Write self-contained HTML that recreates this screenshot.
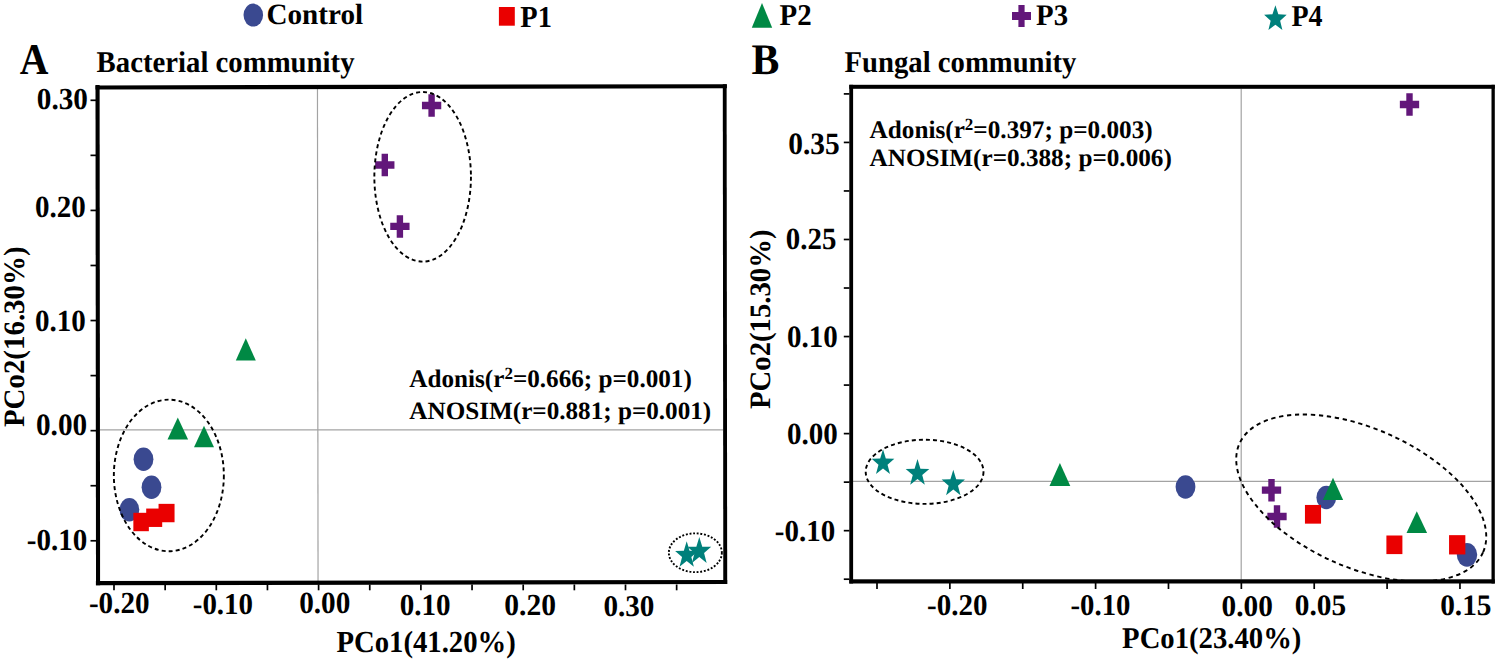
<!DOCTYPE html>
<html><head><meta charset="utf-8"><style>
html,body{margin:0;padding:0;background:#fff;}
svg{display:block;font-family:"Liberation Serif", serif;font-weight:bold;text-rendering:geometricPrecision;}
</style></head><body>
<svg width="1498" height="662" viewBox="0 0 1498 662">
<rect width="1498" height="662" fill="#fff"/>
<ellipse cx="253.3" cy="15.1" rx="9.8" ry="11.5" fill="#3a4990"/>
<rect x="498.90" y="7.00" width="15.9" height="18.7" fill="#ea0000"/>
<polygon points="762.00,3.00 772.20,27.70 751.80,27.70" fill="#008944"/>
<path d="M1018.40 5.00h6.2v7.05h6.40v7.9h-6.40v7.05h-6.2v-7.05h-6.40v-7.9h6.40z" fill="#62177a"/>
<polygon points="1275.40,5.30 1278.33,14.31 1286.69,14.73 1280.14,20.72 1282.38,29.99 1275.40,24.68 1268.42,29.99 1270.66,20.72 1264.11,14.73 1272.47,14.31" fill="#00807b"/>
<line x1="317.45" y1="89" x2="318.05" y2="581" stroke="#a3a3a3" stroke-width="1.2"/>
<line x1="99.8" y1="429.8" x2="723" y2="429.8" stroke="#a3a3a3" stroke-width="1.25"/>
<polygon points="95.50,85.40 726.90,84.20 726.90,88.30 95.50,89.60" fill="#000"/>
<polygon points="95.90,580.90 727.20,580.00 727.20,584.00 95.90,585.30" fill="#000"/>
<polygon points="95.50,85.00 99.60,85.00 100.10,585.30 96.00,585.30" fill="#000"/>
<polygon points="722.80,84.30 726.60,84.30 727.20,584.00 723.30,584.00" fill="#000"/>
<line x1="90.5" y1="100.3" x2="96" y2="100.3" stroke="#000" stroke-width="1.7"/>
<line x1="90.5" y1="155.36" x2="96" y2="155.36" stroke="#000" stroke-width="1.7"/>
<line x1="90.5" y1="210.42000000000002" x2="96" y2="210.42000000000002" stroke="#000" stroke-width="1.7"/>
<line x1="90.5" y1="265.48" x2="96" y2="265.48" stroke="#000" stroke-width="1.7"/>
<line x1="90.5" y1="320.54" x2="96" y2="320.54" stroke="#000" stroke-width="1.7"/>
<line x1="90.5" y1="375.6" x2="96" y2="375.6" stroke="#000" stroke-width="1.7"/>
<line x1="90.5" y1="430.66" x2="96" y2="430.66" stroke="#000" stroke-width="1.7"/>
<line x1="90.5" y1="485.72" x2="96" y2="485.72" stroke="#000" stroke-width="1.7"/>
<line x1="90.5" y1="540.78" x2="96" y2="540.78" stroke="#000" stroke-width="1.7"/>
<line x1="114.0" y1="584.5" x2="114.0" y2="590.3" stroke="#000" stroke-width="1.7"/>
<line x1="165.15" y1="584.5" x2="165.15" y2="590.3" stroke="#000" stroke-width="1.7"/>
<line x1="216.3" y1="584.5" x2="216.3" y2="590.3" stroke="#000" stroke-width="1.7"/>
<line x1="267.45" y1="584.5" x2="267.45" y2="590.3" stroke="#000" stroke-width="1.7"/>
<line x1="318.6" y1="584.5" x2="318.6" y2="590.3" stroke="#000" stroke-width="1.7"/>
<line x1="369.75" y1="584.5" x2="369.75" y2="590.3" stroke="#000" stroke-width="1.7"/>
<line x1="420.9" y1="584.5" x2="420.9" y2="590.3" stroke="#000" stroke-width="1.7"/>
<line x1="472.05" y1="584.5" x2="472.05" y2="590.3" stroke="#000" stroke-width="1.7"/>
<line x1="523.2" y1="584.5" x2="523.2" y2="590.3" stroke="#000" stroke-width="1.7"/>
<line x1="574.3499999999999" y1="584.5" x2="574.3499999999999" y2="590.3" stroke="#000" stroke-width="1.7"/>
<line x1="625.5" y1="584.5" x2="625.5" y2="590.3" stroke="#000" stroke-width="1.7"/>
<line x1="676.65" y1="584.5" x2="676.65" y2="590.3" stroke="#000" stroke-width="1.7"/>
<path d="M428.40 94.25h6.4v7.60h6.45v7.3h-6.45v7.60h-6.4v-7.60h-6.45v-7.3h6.45z" fill="#62177a"/>
<path d="M381.60 153.75h6.4v7.60h6.45v7.3h-6.45v7.60h-6.4v-7.60h-6.45v-7.3h6.45z" fill="#62177a"/>
<path d="M396.70 215.15h6.4v7.60h6.45v7.3h-6.45v7.60h-6.4v-7.60h-6.45v-7.3h6.45z" fill="#62177a"/>
<polygon points="245.80,338.20 255.80,360.50 235.80,360.50" fill="#008944"/>
<polygon points="177.80,417.50 188.10,439.60 167.50,439.60" fill="#008944"/>
<polygon points="204.00,425.80 214.00,447.30 194.00,447.30" fill="#008944"/>
<ellipse cx="143.5" cy="459.3" rx="9.9" ry="11.7" fill="#3a4990"/>
<ellipse cx="151.5" cy="487.3" rx="9.9" ry="11.7" fill="#3a4990"/>
<ellipse cx="129.4" cy="509.7" rx="9.9" ry="11.7" fill="#3a4990"/>
<rect x="133.35" y="512.80" width="15.5" height="18.4" fill="#ea0000"/>
<rect x="146.20" y="508.55" width="16" height="18.4" fill="#ea0000"/>
<rect x="158.55" y="503.85" width="16" height="18.4" fill="#ea0000"/>
<polygon points="686.70,541.30 689.56,550.77 698.28,550.97 691.33,557.03 693.86,566.63 686.70,560.90 679.54,566.63 682.07,557.03 675.12,550.97 683.84,550.77" fill="#00807b"/>
<polygon points="699.30,536.90 702.25,546.64 711.21,546.85 704.07,553.08 706.66,562.95 699.30,557.06 691.94,562.95 694.53,553.08 687.39,546.85 696.35,546.64" fill="#00807b"/>
<ellipse cx="422.65" cy="176.8" rx="48.3" ry="84.8" fill="none" stroke="#000" stroke-width="1.9" stroke-dasharray="4 3.1"/>
<ellipse cx="168.85" cy="475.45" rx="55.0" ry="75.8" fill="none" stroke="#000" stroke-width="1.9" stroke-dasharray="4 3.1"/>
<ellipse cx="695.35" cy="552.75" rx="26.5" ry="19.4" fill="none" stroke="#000" stroke-width="1.9" stroke-dasharray="1.9 1.75"/>
<line x1="1241.2" y1="88.8" x2="1241.2" y2="579.5" stroke="#a3a3a3" stroke-width="1.2"/>
<line x1="849" y1="481.4" x2="1491.5" y2="481.4" stroke="#a3a3a3" stroke-width="1.25"/>
<rect x="849.30" y="84.80" width="645.50" height="4.00" fill="#000"/>
<rect x="849.30" y="84.80" width="3.80" height="498.70" fill="#000"/>
<rect x="1491.50" y="84.80" width="3.30" height="498.70" fill="#000"/>
<rect x="849.30" y="579.30" width="645.50" height="4.20" fill="#000"/>
<line x1="843.8" y1="93.9" x2="849.5" y2="93.9" stroke="#000" stroke-width="1.7"/>
<line x1="843.8" y1="142.43" x2="849.5" y2="142.43" stroke="#000" stroke-width="1.7"/>
<line x1="843.8" y1="190.96" x2="849.5" y2="190.96" stroke="#000" stroke-width="1.7"/>
<line x1="843.8" y1="239.49" x2="849.5" y2="239.49" stroke="#000" stroke-width="1.7"/>
<line x1="843.8" y1="288.02" x2="849.5" y2="288.02" stroke="#000" stroke-width="1.7"/>
<line x1="843.8" y1="336.55" x2="849.5" y2="336.55" stroke="#000" stroke-width="1.7"/>
<line x1="843.8" y1="385.08000000000004" x2="849.5" y2="385.08000000000004" stroke="#000" stroke-width="1.7"/>
<line x1="843.8" y1="433.61" x2="849.5" y2="433.61" stroke="#000" stroke-width="1.7"/>
<line x1="843.8" y1="482.14" x2="849.5" y2="482.14" stroke="#000" stroke-width="1.7"/>
<line x1="843.8" y1="530.67" x2="849.5" y2="530.67" stroke="#000" stroke-width="1.7"/>
<line x1="843.8" y1="579.2" x2="849.5" y2="579.2" stroke="#000" stroke-width="1.7"/>
<line x1="877.0" y1="583" x2="877.0" y2="589" stroke="#000" stroke-width="1.7"/>
<line x1="949.87" y1="583" x2="949.87" y2="589" stroke="#000" stroke-width="1.7"/>
<line x1="1022.74" y1="583" x2="1022.74" y2="589" stroke="#000" stroke-width="1.7"/>
<line x1="1095.6100000000001" y1="583" x2="1095.6100000000001" y2="589" stroke="#000" stroke-width="1.7"/>
<line x1="1168.48" y1="583" x2="1168.48" y2="589" stroke="#000" stroke-width="1.7"/>
<line x1="1241.35" y1="583" x2="1241.35" y2="589" stroke="#000" stroke-width="1.7"/>
<line x1="1314.22" y1="583" x2="1314.22" y2="589" stroke="#000" stroke-width="1.7"/>
<line x1="1387.0900000000001" y1="583" x2="1387.0900000000001" y2="589" stroke="#000" stroke-width="1.7"/>
<line x1="1459.96" y1="583" x2="1459.96" y2="589" stroke="#000" stroke-width="1.7"/>
<path d="M1406.30 93.25h6.4v7.60h6.45v7.3h-6.45v7.60h-6.4v-7.60h-6.45v-7.3h6.45z" fill="#62177a"/>
<path d="M1268.30 478.95h6.4v7.60h6.45v7.3h-6.45v7.60h-6.4v-7.60h-6.45v-7.3h6.45z" fill="#62177a"/>
<path d="M1273.80 505.25h6.4v7.60h6.45v7.3h-6.45v7.60h-6.4v-7.60h-6.45v-7.3h6.45z" fill="#62177a"/>
<polygon points="883.00,449.30 885.80,458.57 894.34,458.77 887.53,464.69 890.01,474.08 883.00,468.48 875.99,474.08 878.47,464.69 871.66,458.77 880.20,458.57" fill="#00807b"/>
<polygon points="917.50,459.00 920.43,468.67 929.33,468.88 922.23,475.07 924.81,484.87 917.50,479.02 910.19,484.87 912.77,475.07 905.67,468.88 914.57,468.67" fill="#00807b"/>
<polygon points="953.30,469.80 956.18,479.34 964.97,479.54 957.97,485.64 960.51,495.31 953.30,489.54 946.09,495.31 948.63,485.64 941.63,479.54 950.42,479.34" fill="#00807b"/>
<polygon points="1059.90,462.90 1070.30,486.10 1049.50,486.10" fill="#008944"/>
<ellipse cx="1185.5" cy="487" rx="9.9" ry="11.7" fill="#3a4990"/>
<ellipse cx="1326.3" cy="497.5" rx="9.9" ry="11.7" fill="#3a4990"/>
<ellipse cx="1467" cy="554.8" rx="10.2" ry="11.85" fill="#3a4990"/>
<polygon points="1333.00,477.80 1343.15,500.10 1322.85,500.10" fill="#008944"/>
<polygon points="1416.80,511.20 1427.10,532.90 1406.50,532.90" fill="#008944"/>
<rect x="1304.95" y="504.95" width="16.1" height="18.7" fill="#ea0000"/>
<rect x="1386.40" y="535.50" width="16" height="18.6" fill="#ea0000"/>
<rect x="1449.05" y="535.15" width="16.3" height="19.3" fill="#ea0000"/>
<ellipse cx="924.6" cy="471.8" rx="58.9" ry="32.1" fill="none" stroke="#000" stroke-width="1.9" stroke-dasharray="4 3.1"/>
<ellipse cx="1361.24" cy="498.0" rx="133.37" ry="69.41" fill="none" stroke="#000" stroke-width="1.9" stroke-dasharray="4.3 3.7" transform="rotate(24.06 1361.24 498.0)"/>
<text x="266.48" y="0" font-size="29.15" transform="translate(0 24.41) scale(1 1.0045)">Control</text>
<text x="520.31" y="0" font-size="28.41" transform="translate(0 27.40) scale(1 1.0718)">P1</text>
<text x="779.51" y="0" font-size="28.93" transform="translate(0 25.00) scale(1 1.0441)">P2</text>
<text x="1036.11" y="0" font-size="28.79" transform="translate(0 24.71) scale(1 1.0341)">P3</text>
<text x="1291.52" y="0" font-size="27.99" transform="translate(0 26.00) scale(1 1.0854)">P4</text>
<text x="19.71" y="0" font-size="39.71" transform="translate(0 73.70) scale(1 1.1024)">A</text>
<text x="96.62" y="0" font-size="28.75" transform="translate(0 72.11) scale(1 1.0472)">Bacterial community</text>
<text x="88.93" y="0" font-size="29.13" transform="translate(0 612.57) scale(1 1.0463)">-0.20</text>
<text x="192.74" y="0" font-size="28.98" transform="translate(0 614.47) scale(1 1.0415)">-0.10</text>
<text x="299.19" y="0" font-size="29.21" transform="translate(0 613.36) scale(1 1.0533)">0.00</text>
<text x="399.69" y="0" font-size="29.09" transform="translate(0 614.67) scale(1 1.0526)">0.10</text>
<text x="504.27" y="0" font-size="29.57" transform="translate(0 614.67) scale(1 1.0356)">0.20</text>
<text x="603.39" y="0" font-size="29.15" transform="translate(0 615.77) scale(1 1.0302)">0.30</text>
<text x="36.79" y="0" font-size="29.21" transform="translate(0 109.47) scale(1 1.0483)">0.30</text>
<text x="34.99" y="0" font-size="29.04" transform="translate(0 217.06) scale(1 1.0598)">0.20</text>
<text x="34.99" y="0" font-size="29.04" transform="translate(0 330.76) scale(1 1.0598)">0.10</text>
<text x="35.99" y="0" font-size="29.27" transform="translate(0 435.16) scale(1 1.0612)">0.00</text>
<text x="26.84" y="0" font-size="29.03" transform="translate(0 550.27) scale(1 1.0549)">-0.10</text>
<text x="336.41" y="0" font-size="28.72" transform="translate(0 652.40) scale(1 1.0636)">PCo1(41.20%)</text>
<text x="0" y="0" font-size="28.91" transform="translate(23.90 427.09) rotate(-90) scale(1 1.0248)">PCo2(16.30%)</text>
<text x="409.35" y="0" font-size="25.17" transform="translate(0 387.30) scale(1 1.0052)">Adonis(r<tspan font-size="16.99" dy="-7.93">2</tspan><tspan dy="7.93">=0.666; p=0.001)</tspan></text>
<text x="409.35" y="0" font-size="25.17" transform="translate(0 418.90) scale(1 0.9870)">ANOSIM(r=0.881; p=0.001)</text>
<text x="751.41" y="0" font-size="41.76" transform="translate(0 73.57) scale(1 1.0448)">B</text>
<text x="844.61" y="0" font-size="28.68" transform="translate(0 71.70) scale(1 1.0543)">Fungal community</text>
<text x="927.04" y="0" font-size="29.03" transform="translate(0 614.67) scale(1 1.0397)">-0.20</text>
<text x="1070.55" y="0" font-size="28.73" transform="translate(0 614.67) scale(1 1.0505)">-0.10</text>
<text x="1221.48" y="0" font-size="29.33" transform="translate(0 616.27) scale(1 1.0239)">0.00</text>
<text x="1294.78" y="0" font-size="29.31" transform="translate(0 615.18) scale(1 1.0148)">0.05</text>
<text x="1440.18" y="0" font-size="29.37" transform="translate(0 615.18) scale(1 1.0127)">0.15</text>
<text x="788.28" y="0" font-size="29.43" transform="translate(0 153.86) scale(1 1.0557)">0.35</text>
<text x="785.80" y="0" font-size="28.89" transform="translate(0 248.76) scale(1 1.0651)">0.25</text>
<text x="787.09" y="0" font-size="29.04" transform="translate(0 346.56) scale(1 1.0699)">0.10</text>
<text x="787.09" y="0" font-size="29.04" transform="translate(0 444.16) scale(1 1.0598)">0.00</text>
<text x="774.84" y="0" font-size="28.98" transform="translate(0 541.47) scale(1 1.0466)">-0.10</text>
<text x="1122.11" y="0" font-size="28.70" transform="translate(0 647.70) scale(1 1.0483)">PCo1(23.40%)</text>
<text x="0" y="0" font-size="28.72" transform="translate(770.10 408.99) rotate(-90) scale(1 1.0317)">PCo2(15.30%)</text>
<text x="869.55" y="0" font-size="25.22" transform="translate(0 138.00) scale(1 1.0031)">Adonis(r<tspan font-size="17.02" dy="-7.94">2</tspan><tspan dy="7.94">=0.397; p=0.003)</tspan></text>
<text x="869.55" y="0" font-size="25.20" transform="translate(0 165.80) scale(1 0.9920)">ANOSIM(r=0.388; p=0.006)</text>
</svg>
</body></html>
